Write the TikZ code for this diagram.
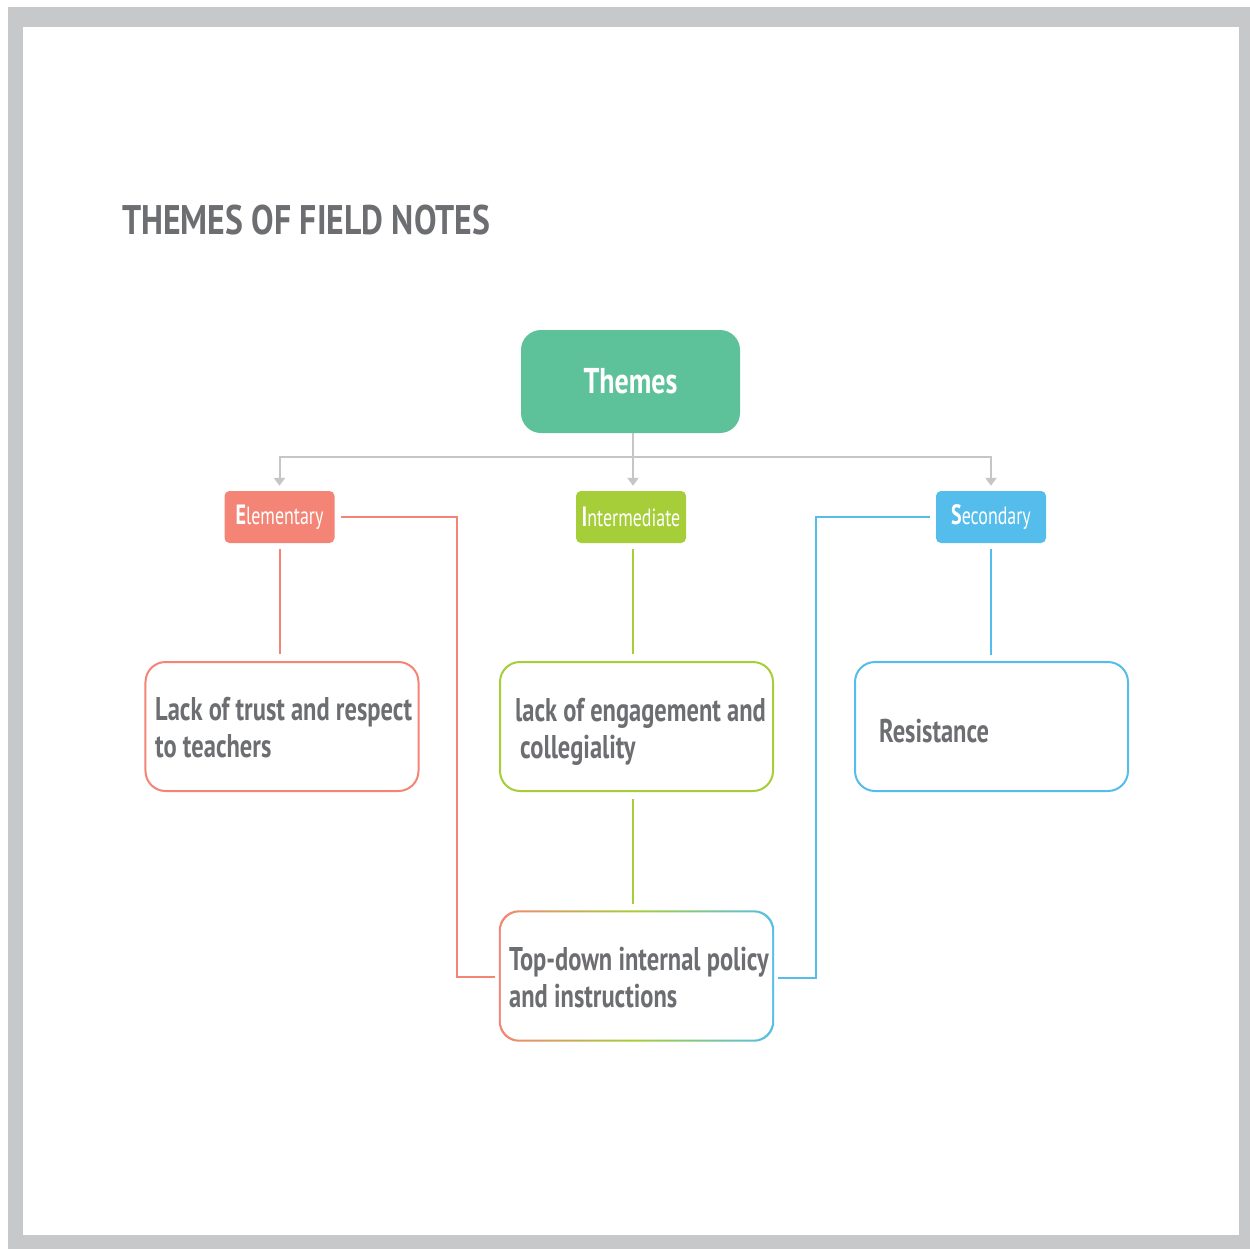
\documentclass[tikz,border=0pt]{standalone}
\usepackage{fontspec}
\setmainfont{PT Sans}
\newfontfamily\titlefont[FakeStretch=0.815]{PT Sans}
\newfontfamily\condfont[FakeStretch=0.78]{PT Sans}
\newfontfamily\boxfont[FakeStretch=0.745]{PT Sans}
\newfontfamily\tagfont[FakeStretch=0.72]{PT Sans}
\usetikzlibrary{arrows.meta}

\definecolor{framegray}{HTML}{C7C8CA}
\definecolor{textgray}{HTML}{6D6E71}
\definecolor{linkgray}{HTML}{C6C6C6}
\definecolor{themegreen}{HTML}{5DC29A}
\definecolor{salmon}{HTML}{F48576}
\definecolor{lime}{HTML}{A6CE39}
\definecolor{sky}{HTML}{55BDEB}

\newcommand{\fs}[2]{\fontsize{#1}{#2}\selectfont}
\newcommand{\tagtext}[2]{{\bfseries\fs{28}{28}#1}\fs{25}{25}#2}

\tikzset{
  rootbox/.style={fill=themegreen, rounded corners=20bp, minimum width=219bp,
    minimum height=103bp, inner sep=0pt, text=white,
    font=\condfont\bfseries\fs{36}{36}},
  tagbox/.style={fill=#1, rounded corners=5bp, minimum width=110bp,
    minimum height=52bp, inner sep=0pt, text=white, font=\tagfont},
  themebox/.style={draw=#1, line width=2bp, fill=white, rounded corners=20bp,
    minimum width=273bp, minimum height=129bp, inner sep=0pt},
  plainbox/.style={rounded corners=20bp, minimum width=273bp,
    minimum height=129bp, inner sep=0pt},
  boxtext/.style={anchor=base west, inner sep=0pt, align=left, text=textgray,
    font=\boxfont\bfseries\fs{33}{37}},
  hub/.style={draw=linkgray, line width=2bp,
    -{Triangle[width=11bp,length=8bp]}, shorten >=5bp},
  link/.style={draw=#1, line width=2bp}
}

\begin{document}
\begin{tikzpicture}[x=1bp, y=-1bp]
\useasboundingbox (0,0) rectangle (1250,1249);

% frame
\fill[framegray] (8,7) rectangle (1250,1249);
\fill[white] (23,27) rectangle (1239,1235);

% title
\node[anchor=base west, inner sep=0pt, text=textgray,
  font=\titlefont\bfseries\fs{41.5}{41.5}] (title) at (122,234) {THEMES OF FIELD NOTES};

% root and level labels
\node[rootbox] (root) at (630.5,381.5) {Themes};
\node[tagbox=salmon] (elem) at (279.5,517) {\tagtext{E}{lementary}};
\node[tagbox=lime] (inter) at (631,517) {\tagtext{I}{ntermediate}};
\node[tagbox=sky] (sec) at (991,517) {\tagtext{S}{econdary}};

% theme boxes
\node[themebox=salmon] (trust) at (282,726.5) {};
\node[themebox=lime] (engage) at (636.5,726.5) {};
\node[themebox=sky] (resist) at (991.5,726.5) {};
\node[plainbox] (policy) at (636.5,976) {};

% box with a colour-graded border
\shade[rounded corners=20bp, left color=salmon, right color=sky, middle color=lime]
  ([shift={(-1bp,-1bp)}]policy.south west) rectangle ([shift={(1bp,1bp)}]policy.north east);
\fill[white, rounded corners=19bp]
  ([shift={(1bp,1bp)}]policy.south west) rectangle ([shift={(-1bp,-1bp)}]policy.north east);

% box texts (base anchor sits on the last line)
\node[boxtext] (trusttext) at (155,757) {Lack of trust and respect\\to teachers};
\node[boxtext] (engagetext) at (515,758) {lack of engagement and\\\hspace{5bp}collegiality};
\node[boxtext] (resisttext) at (879,742) {Resistance};
\node[boxtext] (policytext) at (509,1007) {Top-down internal policy\\and instructions};

% root to level labels
\coordinate (fork) at (633,457);
\draw[linkgray, line width=2bp] (root.south -| fork) -- (fork);
\draw[hub] (fork) -| (elem.north);
\draw[hub] (fork) -- (fork |- inter.north);
\draw[hub] (fork) -| (sec.north);

% level labels to themes
\draw[link=salmon] ([yshift=-6bp]elem.south) -- ([yshift=7bp]elem.south |- trust.north);
\draw[link=lime] ([yshift=-6bp]fork |- inter.south) -- ([yshift=7bp]fork |- engage.north);
\draw[link=sky] ([yshift=-6bp]sec.south) -- ([yshift=6bp]sec.south |- resist.north);
\draw[link=lime] ([yshift=-7bp]fork |- engage.south) -- ([yshift=7bp]fork |- policy.north);

\coordinate (ebend) at (457,517);
\coordinate (sbend) at (816,517);
\draw[link=salmon] ([xshift=6bp]elem.east) -- (ebend) |- ([xshift=-5bp,yshift=-1bp]policy.west);
\draw[link=sky] ([xshift=-6bp]sec.west) -- (sbend) |- ([xshift=5bp,yshift=-2bp]policy.east);
\end{tikzpicture}
\end{document}
